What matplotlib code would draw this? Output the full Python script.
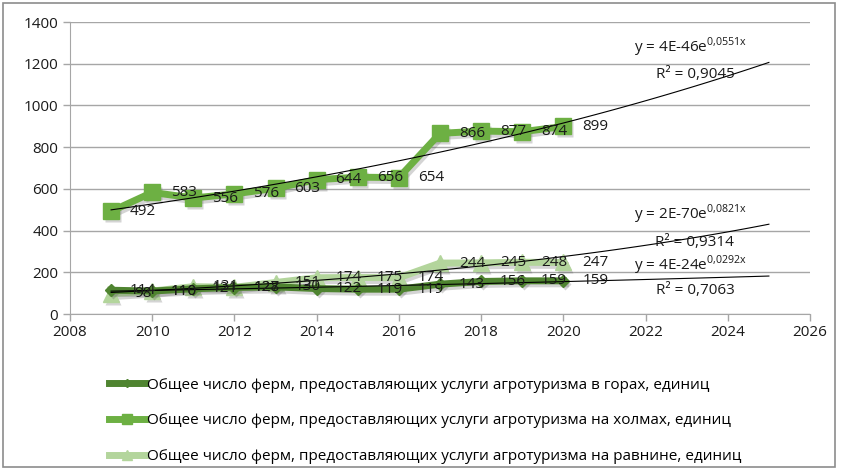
import numpy as np
import matplotlib
matplotlib.use("Agg")
import matplotlib.pyplot as plt
import matplotlib.transforms as mtransforms
from matplotlib.patches import Rectangle

years = [2009, 2010, 2011, 2012, 2013, 2014, 2015, 2016, 2017, 2018, 2019, 2020]
mountains = [114, 110, 121, 127, 130, 122, 119, 119, 143, 156, 159, 159]
hills = [492, 583, 556, 576, 603, 644, 656, 654, 866, 877, 874, 899]
plains = [98, 110, 131, 128, 151, 174, 175, 174, 244, 245, 248, 247]

names = [
    "Общее число ферм, предоставляющих услуги агротуризма в горах, единиц",
    "Общее число ферм, предоставляющих услуги агротуризма на холмах, единиц",
    "Общее число ферм, предоставляющих услуги агротуризма на равнине, единиц",
]
eq_texts = [
    ("y = 4E-24e", "0{,}0292x", "R² = 0,7063"),
    ("y = 4E-46e", "0{,}0551x", "R² = 0,9045"),
    ("y = 2E-70e", "0{,}0821x", "R² = 0,9314"),
]

plt.rcParams['font.family'] = ['Open Sans', 'DejaVu Sans']

fig = plt.figure(figsize=(8.42, 4.72), dpi=100)
ax = fig.add_axes([70/842, 1-314/472, 740/842, 292/472])

colors = ['#4f8430', '#6db043', '#b3d59c']
markers = ['D', 's', '^']
msizes = [6, 11, 11]
series = [mountains, hills, plains]

shadow_tr = ax.transData + mtransforms.ScaledTranslation(2/100, -3/100, fig.dpi_scale_trans)

handles = {}
order = [2, 1, 0]
for k, i in enumerate(order):
    z = 3 + k * 0.2
    ax.plot(years, series[i], color='#555555', alpha=0.25, lw=5, marker=markers[i],
            ms=msizes[i], mec='none', mfc='#555555', transform=shadow_tr, zorder=z)
    h, = ax.plot(years, series[i], color=colors[i], lw=5, marker=markers[i],
                 ms=msizes[i], mec=colors[i], mfc=colors[i], zorder=z + 0.1)
    handles[i] = h

# trendlines (exponential fit, forecast to 2025)
xt = np.linspace(2009, 2025, 100)
for i in range(3):
    b, a = np.polyfit(years, np.log(series[i]), 1)
    ax.plot(xt, np.exp(a + b * xt), color='black', lw=0.8, zorder=5)

# data labels
for i in range(3):
    for x, v in zip(years, series[i]):
        ax.annotate(str(v), (x, v), xytext=(23, 0), textcoords='offset points',
                    ha='center', va='center', fontsize=11, color='#1a1a1a', zorder=6)

# equations
eq_pos = [(2023.1, 235, 2023.2, 112), (2023.1, 1280, 2023.2, 1148), (2023.1, 478, 2023.2, 345)]
for i in range(3):
    ex, ey, rx, ry = eq_pos[i]
    base, sup, r2 = eq_texts[i]
    ax.text(ex, ey, base + r"$^{\mathregular{" + sup + "}}$", ha='center', va='center',
            fontsize=11, color='#1a1a1a', zorder=6)
    ax.text(rx, ry, r2, ha='center', va='center', fontsize=11, color='#1a1a1a', zorder=6)

ax.set_xlim(2008, 2026)
ax.set_ylim(0, 1400)
ax.set_xticks(range(2008, 2027, 2))
ax.set_yticks(range(0, 1401, 200))
ax.yaxis.grid(True, color='#a6a6a6', lw=1)
ax.set_axisbelow(True)
for s in ['top', 'right']:
    ax.spines[s].set_visible(False)
for s in ['left', 'bottom']:
    ax.spines[s].set_color('#a6a6a6')
ax.tick_params(axis='both', colors='#a6a6a6', labelcolor='#1a1a1a', labelsize=11, length=5, width=1)
ax.tick_params(axis='x', pad=3)

# legend
leg = fig.legend([handles[0], handles[1], handles[2]], names, loc='upper left',
                 bbox_to_anchor=(95/842, 1-364/472), frameon=False, fontsize=11,
                 handlelength=2.4, handletextpad=0.1, labelspacing=1.35, markerscale=0.7)

fig.patches.append(Rectangle((3/842, 5/472), 832/842, 464/472, transform=fig.transFigure,
                             fill=False, edgecolor='#8c8c8c', lw=1.2))

fig.savefig('out.png', dpi=100)
